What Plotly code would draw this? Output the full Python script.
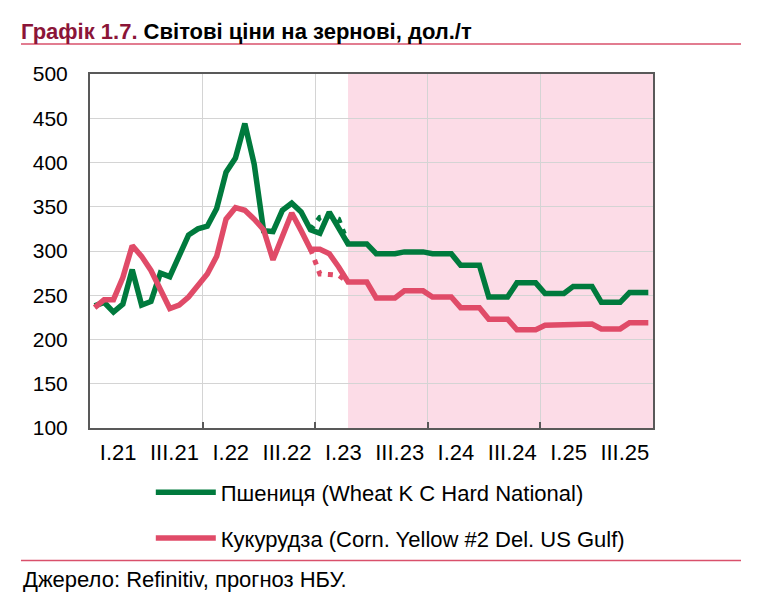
import pandas as pd
import plotly.graph_objects as go

# ---- data ----
months = [p.strftime("%Y-%m") for p in pd.period_range("2021-01", "2025-12", freq="M")]

wheat = [238, 242, 231, 240, 279, 239, 243, 275, 271, 295, 318, 325,
         328, 348, 389, 405, 444, 398, 323, 322, 346, 354, 344, 324,
         320, 344, 325, 308, 308, 308, 297, 297, 297, 299, 299, 299,
         297, 297, 297, 284, 284, 284, 248, 248, 248, 264, 264, 264,
         252, 252, 252, 260, 260, 260, 242, 242, 242, 253, 253, 253]

corn = [236, 245, 245, 270, 306, 294, 278, 257, 235, 239, 248, 261,
        274, 294, 336, 349, 346, 336, 324, 290, 316, 343, 323, 302,
        302, 297, 282, 265, 265, 265, 247, 247, 247, 255, 255, 255,
        248, 248, 248, 236, 236, 236, 223, 223, 223, 211, 211, 211,
        216, 216, 216, 217.5, 217.5, 217.5, 212, 212, 212, 219, 219, 219]

# previous forecast (dotted), Dec 2022 - Apr 2023
prev_months = ["2022-12", "2023-01", "2023-02", "2023-03", "2023-04"]
wheat_prev = [324, 338, 340, 336, 308]
corn_prev = [302, 274, 273.5, 272.5, 265]

forecast_start = "2023-04"

tick_labels = ["I.21", "III.21", "I.22", "III.22", "I.23",
               "III.23", "I.24", "III.24", "I.25", "III.25"]
tick_months = ["2021-01", "2021-07", "2022-01", "2022-07", "2023-01",
               "2023-07", "2024-01", "2024-07", "2025-01", "2025-07"]
year_starts = ["2022-01", "2023-01", "2024-01", "2025-01"]

name_wheat = "Пшениця (Wheat K C Hard National)"
name_corn = "Кукурудза (Corn. Yellow #2 Del. US Gulf)"

# ---- helpers ----
idx = {m: i for i, m in enumerate(months)}
x_all = [idx[m] for m in months]
x_prev = [idx[m] for m in prev_months]

GREEN = "#007A3D"
RED = "#E04B68"
FONT = "Liberation Sans, Arial, sans-serif"

W, H = 756, 601  # page adds an 8px body margin

fig = go.Figure()

fig.add_trace(go.Scatter(x=x_prev, y=wheat_prev, mode="lines", showlegend=False,
                         line=dict(color=GREEN, width=5, dash="5px,6.5px"),
                         hoverinfo="skip"))
fig.add_trace(go.Scatter(x=x_prev, y=corn_prev, mode="lines", showlegend=False,
                         line=dict(color=RED, width=5, dash="5px,6.5px"),
                         hoverinfo="skip"))
fig.add_trace(go.Scatter(x=x_all, y=wheat, mode="lines", name=name_wheat,
                         legendgroup="w", line=dict(color=GREEN, width=5.5)))
fig.add_trace(go.Scatter(x=x_all, y=corn, mode="lines", name=name_corn,
                         legendgroup="c", line=dict(color=RED, width=5.5)))

# forecast shading
fig.add_shape(type="rect", xref="x", yref="paper",
              x0=idx[forecast_start], x1=len(months) - 0.5, y0=0, y1=1,
              fillcolor="#FCDCE7", line=dict(width=0), layer="below")

# separator lines
fig.add_shape(type="line", xref="paper", yref="paper",
              x0=-0.1226, x1=1.1563, y0=1.0845, y1=1.0845,
              line=dict(color="#D9506B", width=1.5))
fig.add_shape(type="line", xref="paper", yref="paper",
              x0=-0.1226, x1=1.1563, y0=-0.3746, y1=-0.3746,
              line=dict(color="#D9506B", width=1.5))

fig.add_annotation(text="Джерело: Refinitiv, прогноз НБУ.", xref="paper", yref="paper",
                   x=-0.1226, y=-0.428, xanchor="left", yanchor="middle",
                   showarrow=False, font=dict(family=FONT, size=22, color="black"))

fig.update_layout(
    width=W, height=H,
    margin=dict(l=82, r=111, t=66, b=181),
    paper_bgcolor="white", plot_bgcolor="white",
    font=dict(family=FONT, size=22, color="black"),
    title=dict(
        text="<b><span style='color:#8B1538'>Графік 1.7.</span> Світові ціни на зернові, дол./т</b>",
        x=13 / W, xanchor="left", xref="container",
        y=1 - 23 / H, yanchor="middle", yref="container",
        font=dict(family=FONT, size=22, color="black")),
    showlegend=True,
    legend=dict(orientation="v", x=0.108, xanchor="left", y=-0.123, yanchor="top",
                font=dict(family=FONT, size=22, color="black"),
                tracegroupgap=14, itemwidth=60, bgcolor="rgba(0,0,0,0)"),
    xaxis=dict(range=[-0.5, len(months) - 0.5],
               tickmode="array",
               tickvals=[idx[m] + 2.5 for m in tick_months],
               ticktext=tick_labels,
               tickfont=dict(size=22),
               showgrid=False, ticks="", zeroline=False,
               showline=True, mirror=True, linecolor="#595959", linewidth=2,
               ticklabelstandoff=4,
               minor=dict(tickmode="array",
                          tickvals=[idx[m] - 0.5 for m in year_starts],
                          showgrid=True, gridcolor="#D4D4D4", gridwidth=1,
                          ticks="inside", ticklen=6, tickcolor="#595959", tickwidth=1.5)),
    yaxis=dict(range=[100, 500], tick0=100, dtick=50,
               tickfont=dict(size=21),
               showgrid=True, gridcolor="#D4D4D4", gridwidth=1,
               ticks="", zeroline=False,
               showline=True, mirror=True, linecolor="#595959", linewidth=2,
               ticklabelstandoff=16),
)

fig.write_html("out.html")
